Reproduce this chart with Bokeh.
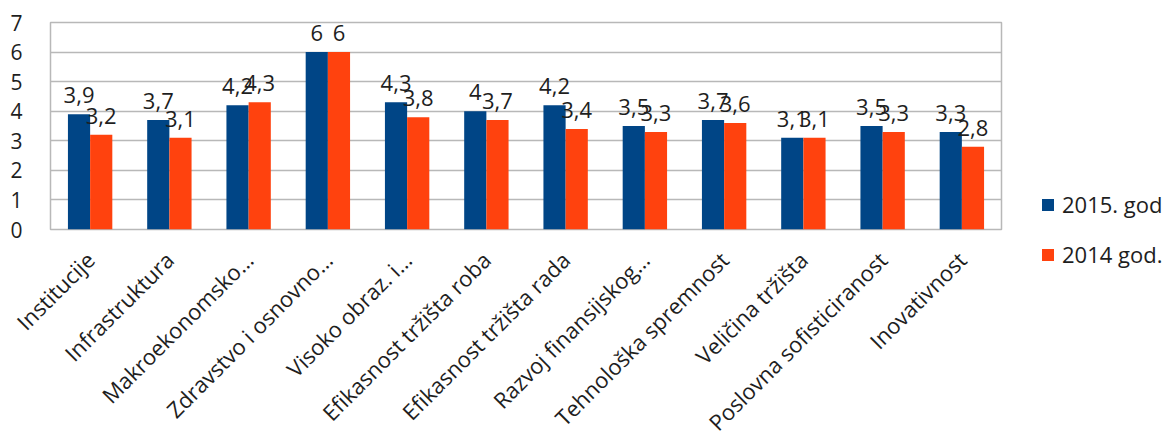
import math

from bokeh.core.properties import value
from bokeh.embed import file_html
from bokeh.models import ColumnDataSource, FactorRange, Legend, LegendItem, FixedTicker
from bokeh.plotting import figure
from bokeh.resources import INLINE
from bokeh.transform import dodge

# Pillars of competitiveness and their scores
categories = [
    "Institucije",
    "Infrastruktura",
    "Makroekonomsko…",
    "Zdravstvo i osnovno…",
    "Visoko obraz. i…",
    "Efikasnost tržišta roba",
    "Efikasnost tržišta rada",
    "Razvoj finansijskog…",
    "Tehnološka spremnost",
    "Veličina tržišta",
    "Poslovna sofisticiranost",
    "Inovativnost",
]
scores_2015 = [3.9, 3.7, 4.2, 6, 4.3, 4, 4.2, 3.5, 3.7, 3.1, 3.5, 3.3]
scores_2014 = [3.2, 3.1, 4.3, 6, 3.8, 3.7, 3.4, 3.3, 3.6, 3.1, 3.3, 2.8]
series_names = ["2015. god", "2014 god."]
y_ticks = [0, 1, 2, 3, 4, 5, 6, 7]

FONT = "Open Sans"
TEXT_COLOR = "#1e1e1e"
BLUE = "#004586"
ORANGE = "#ff420e"
GRID = "#b8b8b8"


def fmt(v):
    s = f"{v:g}"
    return s.replace(".", ",")


source = ColumnDataSource(dict(
    cat=categories,
    y15=scores_2015,
    y14=scores_2014,
    t15=[fmt(v) for v in scores_2015],
    t14=[fmt(v) for v in scores_2014],
))

p = figure(
    x_range=FactorRange(*categories),
    y_range=(0, 7),
    frame_width=951,
    frame_height=207,
    min_border_left=50,
    min_border_right=171,
    min_border_top=22,
    min_border_bottom=10,
    output_backend="svg",
    toolbar_location=None,
    background_fill_color="white",
    border_fill_color="white",
)
p.x_range.range_padding = 0
p.x_range.factor_padding = 0

off = 0.14
w = 0.28
r15 = p.vbar(x=dodge("cat", -off, range=p.x_range), top="y15", width=w,
             source=source, fill_color=BLUE, line_color=None)
r14 = p.vbar(x=dodge("cat", off, range=p.x_range), top="y14", width=w,
             source=source, fill_color=ORANGE, line_color=None)

# value labels above bars
for col, txt, d in (("y15", "t15", -off), ("y14", "t14", off)):
    p.text(x=dodge("cat", d, range=p.x_range), y=col, text=txt, source=source,
           text_font=value(FONT), text_font_size="22px", text_color=TEXT_COLOR,
           text_align="center", text_baseline="alphabetic", y_offset=-19)

# axes
p.yaxis.ticker = FixedTicker(ticks=y_ticks)
p.yaxis.axis_line_color = None
p.yaxis.major_tick_line_color = None
p.yaxis.minor_tick_line_color = None
p.yaxis.major_label_standoff = 22
p.yaxis.major_label_text_font = FONT
p.yaxis.major_label_text_font_size = "21px"
p.yaxis.major_label_text_color = TEXT_COLOR

p.xaxis.axis_line_color = None
p.xaxis.major_tick_line_color = None
p.xaxis.minor_tick_line_color = None
p.xaxis.major_label_orientation = math.pi / 4
p.xaxis.major_label_standoff = 20
p.xaxis.major_label_text_font = FONT
p.xaxis.major_label_text_font_size = "22px"
p.xaxis.major_label_text_color = TEXT_COLOR

p.xgrid.grid_line_color = None
p.ygrid.grid_line_color = GRID
p.ygrid.grid_line_width = 1.5
p.outline_line_color = GRID
p.outline_line_width = 1.5

legend = Legend(
    items=[LegendItem(label=series_names[0], renderers=[r15]),
           LegendItem(label=series_names[1], renderers=[r14])],
    location=(39, -40),
    orientation="vertical",
    border_line_color=None,
    background_fill_alpha=0,
    padding=0,
    margin=0,
    spacing=20,
    glyph_width=15,
    glyph_height=15,
    label_height=20,
    label_standoff=7,
    label_text_font=FONT,
    label_text_font_size="22px",
    label_text_color=TEXT_COLOR,
)
p.add_layout(legend, "right")

open("out.html", "w").write(file_html(p, INLINE))
